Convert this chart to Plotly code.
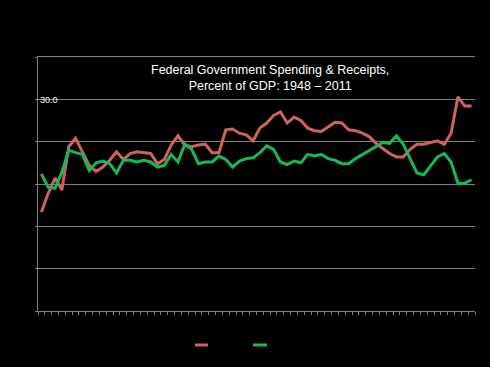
import plotly.graph_objects as go

years = list(range(1948, 2012))
spending = [11.7, 13.9, 15.7, 14.3, 19.4, 20.4, 18.8, 17.2, 16.5, 17.0,
            17.8, 18.8, 17.9, 18.6, 18.8, 18.7, 18.6, 17.4, 17.9, 19.6,
            20.7, 19.6, 19.4, 19.6, 19.7, 18.7, 18.7, 21.4, 21.5, 21.0,
            20.8, 20.1, 21.6, 22.2, 23.1, 23.5, 22.2, 22.9, 22.5, 21.6,
            21.3, 21.2, 21.8, 22.3, 22.2, 21.4, 21.3, 21.0, 20.6, 19.8,
            19.2, 18.6, 18.2, 18.2, 19.1, 19.7, 19.7, 19.9, 20.1, 19.7,
            21.0, 25.3, 24.2, 24.2]
receipts = [16.2, 14.6, 14.5, 16.4, 19.0, 18.7, 18.5, 16.6, 17.5, 17.7,
            17.4, 16.3, 17.8, 17.8, 17.6, 17.8, 17.6, 17.0, 17.2, 18.5,
            17.6, 19.7, 19.1, 17.4, 17.6, 17.6, 18.3, 17.9, 17.0, 17.7,
            18.0, 18.1, 18.7, 19.5, 19.1, 17.6, 17.3, 17.7, 17.5, 18.5,
            18.3, 18.5, 18.0, 17.8, 17.4, 17.4, 18.0, 18.5, 18.9, 19.4,
            19.9, 19.8, 20.7, 19.7, 18.0, 16.3, 16.1, 17.2, 18.2, 18.6,
            17.6, 15.1, 15.1, 15.5]

RED = "#CF625B"
GREEN = "#17B857"
GRID = "#7F7F7F"

fig = go.Figure()
fig.add_trace(go.Scatter(x=years, y=spending, mode="lines", name="Outlays",
                         line=dict(color=RED, width=3)))
fig.add_trace(go.Scatter(x=years, y=receipts, mode="lines", name="Receipts",
                         line=dict(color=GREEN, width=3)))

fig.update_layout(
    width=490, height=367,
    margin=dict(l=38, r=15, t=57, b=56),
    paper_bgcolor="black", plot_bgcolor="black",
    showlegend=False,
    font=dict(family="Liberation Sans, Arial, sans-serif", color="white"),
    xaxis=dict(range=[1947.5, 2011.5], tick0=1947.5, dtick=1,
               showticklabels=False, ticks="outside", ticklen=3,
               tickcolor=GRID, showline=True, linecolor=GRID, linewidth=1,
               mirror=True, showgrid=False, zeroline=False),
    yaxis=dict(range=[0, 30], tick0=0, dtick=5, showticklabels=False,
               ticks="outside", ticklen=2, tickcolor=GRID,
               showgrid=True, gridcolor=GRID, gridwidth=1,
               showline=True, linecolor=GRID, linewidth=1, zeroline=False),
)

fig.add_annotation(text="Federal Government Spending & Receipts,<br>Percent of GDP: 1948 \u2013 2011",
                   xref="paper", yref="paper", x=(270 - 38) / 437, y=(311 - 78) / 254,
                   xanchor="center", yanchor="middle", showarrow=False,
                   font=dict(size=12.5, color="white"))
fig.add_annotation(text="30.0", xref="paper", yref="y", x=0, y=25,
                   xanchor="left", yanchor="middle", xshift=0, yshift=-1,
                   showarrow=False, font=dict(size=9, color="white"))

# legend swatches
fig.add_shape(type="line", xref="paper", yref="paper",
              x0=(195 - 38) / 437, x1=(208 - 38) / 437, y0=-34 / 254, y1=-34 / 254,
              line=dict(color=RED, width=3))
fig.add_shape(type="line", xref="paper", yref="paper",
              x0=(253 - 38) / 437, x1=(267 - 38) / 437, y0=-34 / 254, y1=-34 / 254,
              line=dict(color=GREEN, width=3))

fig.write_html("out.html", config={"displayModeBar": False},
               post_script="document.body.style.margin='0';document.body.style.background='black';")
